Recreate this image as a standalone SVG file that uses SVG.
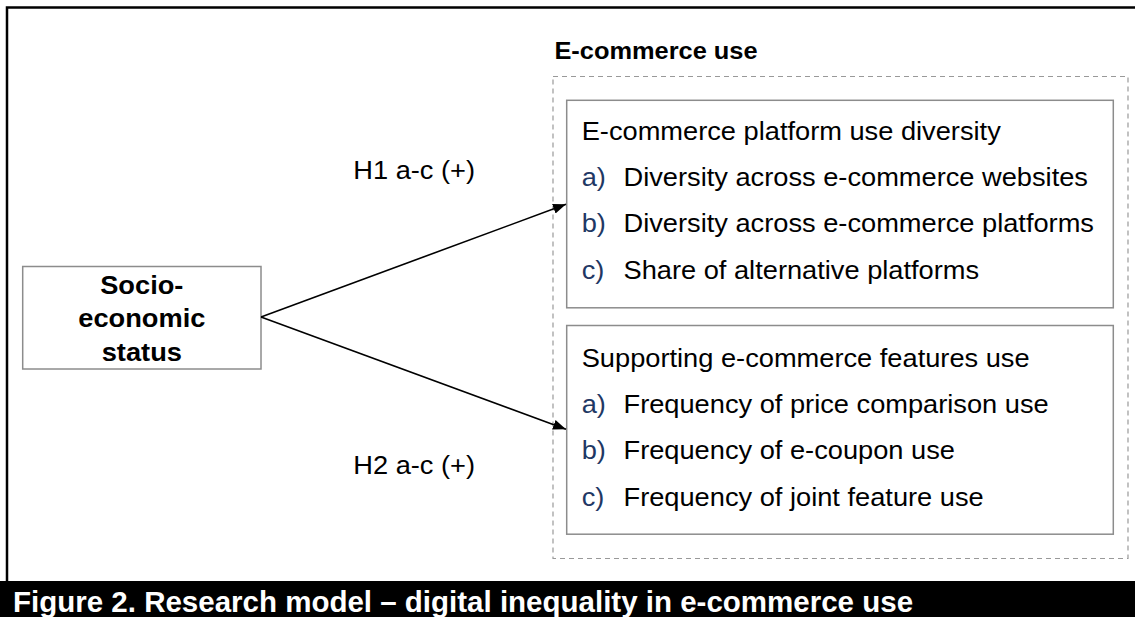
<svg xmlns="http://www.w3.org/2000/svg" width="1135" height="617" viewBox="0 0 1135 617">
  <style>
    .reg { font-family: "Liberation Sans", Arial, sans-serif; font-size: 25px; fill: #000; }
    .lbl { font-family: "Liberation Sans", Arial, sans-serif; font-size: 25px; fill: #1F3864; }
    .bold { font-family: "Liberation Sans", Arial, sans-serif; font-weight: bold; fill: #000; }
    .box { fill: #fff; stroke: #8c8c8c; stroke-width: 1.5; }
    .conn { stroke: #000; stroke-width: 1.6; fill: none; }
  </style>
  <defs>
    <marker id="arrow" markerUnits="userSpaceOnUse" markerWidth="14" markerHeight="11" refX="13" refY="5" orient="auto">
      <path d="M0,0 L13,5 L0,10 z" fill="#000"/>
    </marker>
  </defs>
  <rect x="0" y="0" width="1135" height="617" fill="#fff"/>
  <!-- outer frame -->
  <path d="M7,582 L7,7.5 L1140,7.5" fill="none" stroke="#000" stroke-width="2.5"/>
  <!-- caption bar -->
  <g id="caption">
    <rect x="0" y="581" width="1135" height="36" fill="#000"/>
    <text x="13" y="611.5" class="bold" font-size="29.5" fill="#fff" style="fill:#fff">Figure 2. Research model – digital inequality in e-commerce use</text>
  </g>
  <!-- group container -->
  <g id="ecommerce-use">
    <rect x="553" y="76.5" width="575" height="482" fill="none" stroke="#999" stroke-width="1.2" stroke-dasharray="5,4"/>
    <text transform="translate(554.4,59.3) scale(1.09,1)" class="bold" font-size="23.3">E-commerce use</text>
  </g>
  <g id="ses">
    <rect x="22.7" y="266.5" width="238.3" height="102.5" class="box"/>
    <text transform="translate(141.8,293.5) scale(1.09,1)" class="bold" font-size="25" text-anchor="middle">Socio-</text>
    <text transform="translate(141.8,327) scale(1.09,1)" class="bold" font-size="25" text-anchor="middle">economic</text>
    <text transform="translate(141.8,360.5) scale(1.09,1)" class="bold" font-size="25" text-anchor="middle">status</text>
  </g>
  <g id="platform-diversity">
    <rect x="566.7" y="100.3" width="546.6" height="207.5" class="box"/>
    <text transform="translate(581.7,139.7) scale(1.09,1)" class="reg">E-commerce platform use diversity</text>
    <text transform="translate(581.7,185.7) scale(1.09,1)" class="lbl">a)</text>
    <text transform="translate(623.5,185.7) scale(1.09,1)" class="reg">Diversity across e-commerce websites</text>
    <text transform="translate(581.7,232.3) scale(1.09,1)" class="lbl">b)</text>
    <text transform="translate(623.5,232.3) scale(1.09,1)" class="reg">Diversity across e-commerce platforms</text>
    <text transform="translate(581.7,279) scale(1.09,1)" class="lbl">c)</text>
    <text transform="translate(623.5,279) scale(1.09,1)" class="reg">Share of alternative platforms</text>
  </g>
  <g id="features-use">
    <rect x="566.7" y="325.5" width="546.6" height="208.7" class="box"/>
    <text transform="translate(581.7,366.7) scale(1.09,1)" class="reg">Supporting e-commerce features use</text>
    <text transform="translate(581.7,412.7) scale(1.09,1)" class="lbl">a)</text>
    <text transform="translate(623.5,412.7) scale(1.09,1)" class="reg">Frequency of price comparison use</text>
    <text transform="translate(581.7,459) scale(1.09,1)" class="lbl">b)</text>
    <text transform="translate(623.5,459) scale(1.09,1)" class="reg">Frequency of e-coupon use</text>
    <text transform="translate(581.7,505.5) scale(1.09,1)" class="lbl">c)</text>
    <text transform="translate(623.5,505.5) scale(1.09,1)" class="reg">Frequency of joint feature use</text>
  </g>
  <g id="connectors">
    <line x1="261" y1="317" x2="566" y2="204.3" class="conn" marker-end="url(#arrow)"/>
    <line x1="261" y1="317" x2="566" y2="429.3" class="conn" marker-end="url(#arrow)"/>
    <text transform="translate(353.3,179.3) scale(1.09,1)" class="reg">H1 a-c (+)</text>
    <text transform="translate(353.3,474.3) scale(1.09,1)" class="reg">H2 a-c (+)</text>
  </g>
</svg>
